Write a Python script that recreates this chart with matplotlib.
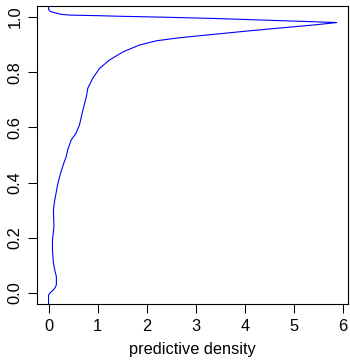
import matplotlib
matplotlib.use("Agg")
import matplotlib.pyplot as plt

# predictive density curve (value on y, density on x)
values = [-0.05, -0.008, 0.0, 0.008, 0.018, 0.03, 0.059, 0.08, 0.108, 0.156,
          0.192, 0.24, 0.30, 0.33, 0.349, 0.397, 0.434, 0.47, 0.494, 0.518,
          0.554, 0.579, 0.609, 0.663, 0.711, 0.742, 0.778, 0.814, 0.844, 0.874,
          0.899, 0.914, 0.925, 0.937, 0.949, 0.960, 0.971, 0.980,
          0.983, 0.987, 0.991, 0.995, 0.998, 1.0, 1.003, 1.005, 1.007, 1.010,
          1.014, 1.020, 1.028, 1.06]
density = [0.0, 0.0, 0.03, 0.08, 0.13, 0.16, 0.16, 0.13, 0.10, 0.08,
           0.08, 0.11, 0.10, 0.12, 0.14, 0.19, 0.245, 0.31, 0.36, 0.39,
           0.46, 0.56, 0.63, 0.70, 0.77, 0.80, 0.90, 1.04, 1.24, 1.52,
           1.86, 2.2, 2.67, 3.35, 4.03, 4.7, 5.39, 5.87,
           5.39, 4.7, 4.03, 3.35, 2.67, 2.2, 1.4, 1.0, 0.43, 0.25,
           0.16, 0.04, 0.0, 0.0]

xticks = [0, 1, 2, 3, 4, 5, 6]
yticks = [0.0, 0.2, 0.4, 0.6, 0.8, 1.0]

plt.rcParams['font.family'] = ['Liberation Sans', 'DejaVu Sans']

fig = plt.figure(figsize=(3.5, 3.61), dpi=100)
ax = fig.add_axes([37 / 350, 1 - 304 / 361, 311 / 350, 298 / 361])

ax.plot(density, values, color='#0000ff', lw=0.8)

ax.set_xlim(-0.235, 6.1)
ax.set_ylim(-0.04, 1.04)
ax.set_xticks(xticks)
ax.set_xticklabels([str(t) for t in xticks])
ax.set_yticks(yticks)
ax.set_yticklabels(['%.1f' % t for t in yticks], rotation=90, va='center')
ax.tick_params(direction='out', length=6.5, width=0.75, pad=4, labelsize=11.8)
ax.set_xlabel('predictive density', fontsize=11.8, labelpad=6)
for s in ax.spines.values():
    s.set_linewidth(0.8)

fig.savefig('out.png', dpi=100)
